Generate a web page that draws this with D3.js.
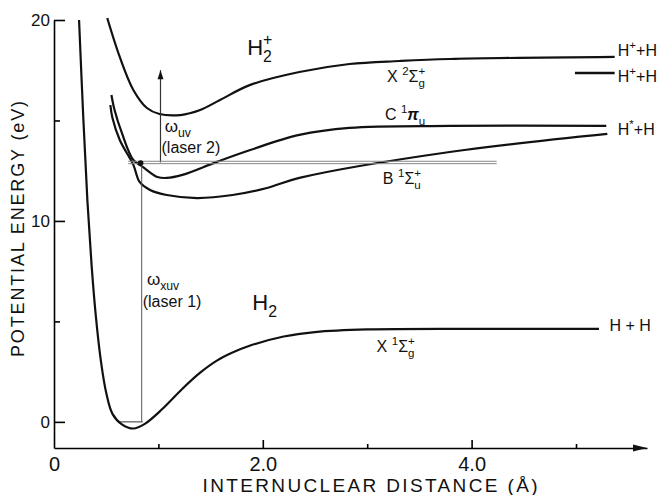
<!DOCTYPE html>
<html>
<head>
<meta charset="utf-8">
<script src="https://cdn.jsdelivr.net/npm/d3@7"></script>
<style>
  body { margin: 0; background: #fff; }
  text { font-family: "Liberation Sans", Arial, sans-serif; fill: #111; }
</style>
</head>
<body>
<div id="graph"></div>
<script>
// potential energy curves, [r (angstrom), E (eV)]
var groundX = [
  [0.24, 20.0], [0.28, 15.2], [0.32, 11.0], [0.36, 7.8], [0.40, 5.3],
  [0.45, 3.0], [0.50, 1.45], [0.56, 0.4], [0.65, -0.12], [0.76, -0.33],
  [0.87, -0.1], [1.04, 0.65], [1.23, 1.65], [1.40, 2.45], [1.56, 3.05],
  [1.71, 3.45], [1.88, 3.8], [2.2, 4.25], [2.5, 4.47], [3.0, 4.6],
  [4.0, 4.63], [5.22, 4.63]
];
var stateB = [
  [0.54, 15.77], [0.56, 15.12], [0.63, 14.03], [0.76, 12.79], [0.82, 11.94],
  [0.92, 11.54], [1.08, 11.29], [1.37, 11.14], [1.71, 11.29], [2.04, 11.64],
  [2.35, 12.14], [3.79, 13.43], [5.30, 14.33]
];
var stateC = [
  [0.55, 16.27], [0.58, 15.52], [0.65, 14.38], [0.76, 13.03], [0.85, 12.69],
  [0.99, 12.19], [1.08, 12.14], [1.23, 12.29], [1.56, 12.94], [1.88, 13.53],
  [2.35, 14.28], [2.83, 14.63], [3.79, 14.73], [5.29, 14.73]
];
var ionX = [
  [0.51, 20.1], [0.63, 18.16], [0.76, 16.52], [0.89, 15.62], [1.01, 15.32],
  [1.21, 15.27], [1.40, 15.52], [1.59, 16.02], [1.88, 16.77], [2.35, 17.41],
  [2.83, 17.81], [3.31, 17.96], [3.79, 18.06], [5.37, 18.16]
];
// short asymptote line for the second H+ + H limit
var ionLimit2 = [[4.99, 17.36], [5.37, 17.36]];

// transitions
var v0Level = [[0.63, 0], [0.85, 0]];
var laser1 = [[0.84, 0], [0.84, 12.91]];
var laser2 = [[1.02, 12.91], [1.02, 17.5]];
var laserLevel = [[0.71, 12.91], [4.24, 12.91]];
var launchPoint = [0.83, 12.88];

// axis ticks
var xMajor = [0, 2, 4];
var xMajorLabels = ["0", "2.0", "4.0"];
var xMinor = [1, 3, 5];
var yMajor = [0, 10, 20];
var yMajorLabels = ["0", "10", "20"];
var yMinor = [5, 15];

var margin = { top: 20, right: 17, bottom: 47, left: 54 },
  width = 664 - margin.left - margin.right,
  height = 495 - margin.top - margin.bottom;

var svg = d3
  .select("#graph")
  .append("svg")
  .attr("width", 664)
  .attr("height", 495);

var chart = svg
  .append("g")
  .attr("transform", "translate(" + margin.left + "," + margin.top + ")");

var x = d3.scaleLinear().domain([0, 5.68]).range([0, width]);
var y = d3.scaleLinear().domain([-1.3, 20]).range([height, 0]);

// axes, ticks pointing inward
var xAxis = chart
  .append("g")
  .attr("transform", "translate(0," + height + ")")
  .call(
    d3.axisBottom(x)
      .tickValues(xMajor)
      .tickSize(-8)
      .tickSizeOuter(0)
      .tickPadding(9)
      .tickFormat(function(d, i) { return xMajorLabels[i]; })
  );
xAxis.select(".domain").attr("stroke-width", 1.6);
xAxis.selectAll(".tick line").attr("stroke-width", 1.6);
xAxis.selectAll(".tick").filter(function(d) { return d === 0; }).select("line").remove();
xAxis.selectAll("text").style("font-size", "20px").attr("fill", "#111");

chart
  .append("g")
  .attr("transform", "translate(0," + height + ")")
  .call(d3.axisBottom(x).tickValues(xMinor).tickSize(-4).tickSizeOuter(0).tickFormat(""))
  .call(function(g) { g.select(".domain").remove(); })
  .selectAll(".tick line")
  .attr("stroke-width", 1.6);

// arrow head of the distance axis
chart
  .append("path")
  .attr("d", "M" + (width - 14) + "," + (height - 3.5) + "L" + width + "," + height +
    "L" + (width - 14) + "," + (height + 3.5) + "Z")
  .attr("fill", "#111");

var yAxis = chart
  .append("g")
  .call(
    d3.axisLeft(y)
      .tickValues(yMajor)
      .tickSize(-11)
      .tickSizeOuter(0)
      .tickPadding(4)
      .tickFormat(function(d, i) { return yMajorLabels[i]; })
  );
yAxis.select(".domain").attr("stroke-width", 1.6);
yAxis.selectAll(".tick line").attr("stroke-width", 1.6);
yAxis.selectAll("text").style("font-size", "17px").attr("fill", "#111");

chart
  .append("g")
  .call(d3.axisLeft(y).tickValues(yMinor).tickSize(-6).tickSizeOuter(0).tickFormat(""))
  .call(function(g) { g.select(".domain").remove(); })
  .selectAll(".tick line")
  .attr("stroke-width", 1.6);

// axis titles
svg
  .append("text")
  .attr("transform", "translate(24,229) rotate(-90)")
  .attr("text-anchor", "middle")
  .attr("textLength", 256)
  .attr("lengthAdjust", "spacing")
  .style("font-size", "18px")
  .text("POTENTIAL ENERGY (eV)");

svg
  .append("text")
  .attr("x", 370)
  .attr("y", 492)
  .attr("text-anchor", "middle")
  .attr("textLength", 335)
  .attr("lengthAdjust", "spacing")
  .style("font-size", "19px")
  .text("INTERNUCLEAR DISTANCE (Å)");

// the curves
var valueline = d3
  .line()
  .x(d => x(d[0]))
  .y(d => y(d[1]))
  .curve(d3.curveCatmullRom.alpha(0.5));

[groundX, stateB, stateC, ionX].forEach(function(c) {
  chart
    .append("path")
    .datum(c)
    .attr("d", valueline)
    .attr("fill", "none")
    .attr("stroke", "#111")
    .attr("stroke-width", 2.2);
});

var straight = d3.line().x(d => x(d[0])).y(d => y(d[1]));

chart
  .append("path")
  .datum(ionLimit2)
  .attr("d", straight)
  .attr("stroke", "#111")
  .attr("stroke-width", 2.4);

chart
  .append("path")
  .datum(v0Level)
  .attr("d", straight)
  .attr("stroke", "#333")
  .attr("stroke-width", 1);

// laser excitation lines
chart
  .append("path")
  .datum(laser1)
  .attr("d", straight)
  .attr("stroke", "#555")
  .attr("stroke-width", 1);

chart
  .append("path")
  .datum(laser2)
  .attr("d", straight)
  .attr("stroke", "#333")
  .attr("stroke-width", 1.2);

chart
  .append("path")
  .attr("d", "M" + (x(laser2[1][0]) - 3) + "," + (y(laser2[1][1]) + 9) + "L" + x(laser2[1][0]) + "," +
    y(laser2[1][1]) + "L" + (x(laser2[1][0]) + 3) + "," + (y(laser2[1][1]) + 9) + "Z")
  .attr("fill", "#111");

[0, 2.4].forEach(function(off) {
  chart
    .append("path")
    .datum(laserLevel)
    .attr("d", straight)
    .attr("transform", "translate(0," + (off - 1.2) + ")")
    .attr("stroke", "#888")
    .attr("stroke-width", 1);
});

chart
  .append("circle")
  .attr("cx", x(launchPoint[0]))
  .attr("cy", y(launchPoint[1]))
  .attr("r", 2.8)
  .attr("fill", "#111");

// labels with sub/superscripts; "stack" puts a superscript over a subscript
function label(r, e, size, parts) {
  var t = chart
    .append("text")
    .attr("x", x(r))
    .attr("y", y(e))
    .style("font-size", size + "px");
  var shift = 0;
  var small = size * 0.72;
  parts.forEach(function(p) {
    var s = p[1] || "";
    if (s === "stack") {
      var sub = t.append("tspan").attr("dy", 0.3 * size - shift).text(p[0]).style("font-size", small + "px");
      var w = sub.node().getComputedTextLength();
      t.append("tspan").attr("dx", -w).attr("dy", -0.75 * size).text(p[2]).style("font-size", small + "px");
      shift = -0.45 * size;
      return;
    }
    var target = s === "sup" ? -0.45 * size : s === "sub" ? 0.3 * size : 0;
    var sp = t.append("tspan").attr("dy", target - shift).text(p[0]);
    if (s) sp.style("font-size", small + "px");
    if (p[2] === "i") sp.style("font-style", "italic").style("font-weight", "bold");
    shift = target;
  });
}

label(1.85, 18.26, 22, [["H"], ["2", "stack", "+"]]);
label(3.19, 16.92, 16, [["X  "], ["2", "sup"], ["Σ"], ["g", "stack", "+"]]);
label(3.17, 15.02, 16, [["C "], ["1", "sup"], ["π", "", "i"], ["u", "sub"]]);
label(3.15, 11.84, 16, [["B  "], ["1", "sup"], ["Σ"], ["u", "stack", "+"]]);
label(1.90, 5.57, 22, [["H"], ["2", "sub"]]);
label(3.09, 3.48, 16, [["X "], ["1", "sup"], ["Σ"], ["g", "stack", "+"]]);
label(5.32, 4.53, 16, [["H + H"]]);
label(5.40, 18.21, 16, [["H"], ["+", "sup"], ["+H"]]);
label(5.40, 16.92, 16, [["H"], ["+", "sup"], ["+H"]]);
label(5.40, 14.28, 16, [["H"], ["*", "sup"], ["+H"]]);
label(1.06, 14.43, 17, [["ω"], ["uv", "sub"]]);
label(1.03, 13.38, 16, [["(laser 2)"]]);
label(0.89, 6.82, 17, [["ω"], ["xuv", "sub"]]);
label(0.85, 5.72, 16, [["(laser 1)"]]);
</script>
</body>
</html>
